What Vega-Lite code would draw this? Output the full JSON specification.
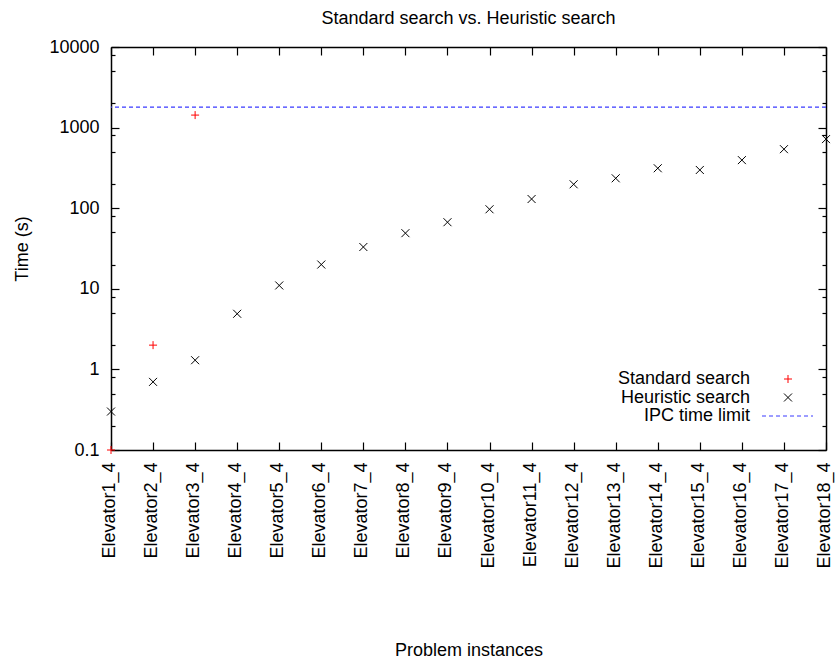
{
  "$schema": "https://vega.github.io/schema/vega-lite/v6.json",
  "width": 715,
  "height": 403,
  "autosize": "none",
  "padding": {"left": 111, "top": 47, "right": 9, "bottom": 209},
  "background": "white",
  "title": {
    "text": "Standard search vs. Heuristic search",
    "font": "Liberation Sans",
    "fontSize": 18,
    "fontWeight": "normal",
    "color": "black",
    "offset": 10
  },
  "datasets": {
    "runs": [
      {"instance": "Elevator1_4", "series": "Standard search", "time": 0.1},
      {"instance": "Elevator2_4", "series": "Standard search", "time": 2.0},
      {"instance": "Elevator3_4", "series": "Standard search", "time": 1430},
      {"instance": "Elevator1_4", "series": "Heuristic search", "time": 0.3},
      {"instance": "Elevator2_4", "series": "Heuristic search", "time": 0.7},
      {"instance": "Elevator3_4", "series": "Heuristic search", "time": 1.3},
      {"instance": "Elevator4_4", "series": "Heuristic search", "time": 4.9},
      {"instance": "Elevator5_4", "series": "Heuristic search", "time": 11},
      {"instance": "Elevator6_4", "series": "Heuristic search", "time": 20},
      {"instance": "Elevator7_4", "series": "Heuristic search", "time": 33},
      {"instance": "Elevator8_4", "series": "Heuristic search", "time": 49},
      {"instance": "Elevator9_4", "series": "Heuristic search", "time": 67},
      {"instance": "Elevator10_4", "series": "Heuristic search", "time": 97},
      {"instance": "Elevator11_4", "series": "Heuristic search", "time": 130},
      {"instance": "Elevator12_4", "series": "Heuristic search", "time": 198},
      {"instance": "Elevator13_4", "series": "Heuristic search", "time": 235},
      {"instance": "Elevator14_4", "series": "Heuristic search", "time": 313},
      {"instance": "Elevator15_4", "series": "Heuristic search", "time": 298},
      {"instance": "Elevator16_4", "series": "Heuristic search", "time": 395},
      {"instance": "Elevator17_4", "series": "Heuristic search", "time": 540},
      {"instance": "Elevator18_4", "series": "Heuristic search", "time": 720}
    ],
    "limit": [
      {"series": "IPC time limit", "time": 1800}
    ]
  },
  "config": {
    "font": "Liberation Sans",
    "view": {"stroke": null},
    "axis": {
      "domainColor": "black",
      "domainWidth": 1.5,
      "ticks": true,
      "tickColor": "black",
      "tickWidth": 1.2,
      "tickOpacity": 1,
      "labelColor": "black",
      "labelFontSize": 18,
      "labelFont": "Liberation Sans",
      "titleColor": "black",
      "titleFontSize": 18,
      "titleFont": "Liberation Sans",
      "titleFontWeight": "normal",
      "grid": false,
      "zindex": 1
    },
    "legend": {
      "labelFontSize": 18,
      "labelFont": "Liberation Sans",
      "labelColor": "black"
    }
  },
  "layer": [
    {
      "data": {"name": "runs"},
      "transform": [{"filter": "datum.series === 'Standard search'"}],
      "mark": {"type": "point", "filled": false, "size": 64, "strokeWidth": 1, "opacity": 1},
      "encoding": {
        "x": {
          "field": "instance",
          "type": "ordinal",
          "sort": null,
          "scale": {
            "type": "point",
            "padding": 0,
            "domain": ["Elevator1_4", "Elevator2_4", "Elevator3_4", "Elevator4_4", "Elevator5_4", "Elevator6_4", "Elevator7_4", "Elevator8_4", "Elevator9_4", "Elevator10_4", "Elevator11_4", "Elevator12_4", "Elevator13_4", "Elevator14_4", "Elevator15_4", "Elevator16_4", "Elevator17_4", "Elevator18_4"]
          },
          "axis": {
            "orient": "bottom",
            "title": "Problem instances",
            "titlePadding": 73,
            "labelAngle": -90,
            "labelAlign": "right",
            "labelBaseline": "middle",
            "labelOffset": -1.5,
            "ticks": true,
            "tickSize": -8,
            "labelPadding": 20
          }
        },
        "y": {
          "field": "time",
          "type": "quantitative",
          "scale": {"type": "log", "domain": [0.1, 10000], "nice": false},
          "axis": {
            "orient": "left",
            "title": "Time (s)",
            "titlePadding": 17,
            "values": [0.1, 0.2, 0.5, 0.8, 1, 2, 5, 8, 10, 20, 50, 80, 100, 200, 500, 800, 1000, 2000, 5000, 8000, 10000],
            "labelExpr": "abs(log(datum.value) / LN10 - round(log(datum.value) / LN10)) < 0.001 ? format(datum.value, '~g') : ''",
            "ticks": true,
            "tickSize": {"condition": {"test": "abs(log(datum.value) / LN10 - round(log(datum.value) / LN10)) < 0.001", "value": -8}, "value": -4},
            "labelPadding": 20
          }
        },
        "color": {
          "field": "series",
          "type": "nominal",
          "scale": {"domain": ["Standard search", "Heuristic search", "IPC time limit"], "range": ["#ff0000", "#000000", "#3a3aff"]},
          "legend": {
            "title": null,
            "orient": "none",
            "legendX": 668,
            "legendY": 323,
            "labelAlign": "right",
            "labelOffset": -47,
            "rowPadding": 0.5,
            "padding": 0,
            "symbolSize": 64,
            "symbolStrokeWidth": 1
          }
        },
        "shape": {
          "field": "series",
          "type": "nominal",
          "scale": {
            "domain": ["Standard search", "Heuristic search", "IPC time limit"],
            "range": [
              "M-1,0L1,0M0,-1L0,1",
              "M-1,-1L1,1M-1,1L1,-1",
              "M-6.5,0L-5.5,0M-4.75,0L-3.75,0M-3,0L-2,0M-1.25,0L-0.25,0M0.5,0L1.5,0M2.25,0L3.25,0M4,0L5,0M5.75,0L6.25,0"
            ]
          },
          "legend": {
            "title": null,
            "orient": "none",
            "legendX": 668,
            "legendY": 323,
            "labelAlign": "right",
            "labelOffset": -47,
            "rowPadding": 0.5,
            "padding": 0,
            "symbolSize": 64,
            "symbolStrokeWidth": 1
          }
        }
      }
    },
    {
      "data": {"name": "runs"},
      "transform": [{"filter": "datum.series === 'Heuristic search'"}],
      "mark": {"type": "point", "filled": false, "size": 64, "strokeWidth": 1, "opacity": 1},
      "encoding": {
        "x": {
          "field": "instance",
          "type": "ordinal",
          "sort": null,
          "axis": {"orient": "top", "title": null, "labels": false, "ticks": true, "tickSize": -8}
        },
        "y": {
          "field": "time",
          "type": "quantitative",
          "axis": {
            "orient": "right",
            "title": null,
            "labels": false,
            "ticks": true,
            "values": [0.1, 0.2, 0.5, 0.8, 1, 2, 5, 8, 10, 20, 50, 80, 100, 200, 500, 800, 1000, 2000, 5000, 8000, 10000],
            "tickSize": {"condition": {"test": "abs(log(datum.value) / LN10 - round(log(datum.value) / LN10)) < 0.001", "value": -8}, "value": -4}
          }
        },
        "color": {"field": "series", "type": "nominal"},
        "shape": {"field": "series", "type": "nominal"}
      }
    },
    {
      "data": {"name": "limit"},
      "mark": {"type": "rule", "color": "#3a3aff", "strokeWidth": 1.2, "strokeDash": [4, 3]},
      "encoding": {
        "y": {"field": "time", "type": "quantitative", "axis": null}
      }
    }
  ],
  "resolve": {"axis": {"x": "independent", "y": "independent"}}
}
